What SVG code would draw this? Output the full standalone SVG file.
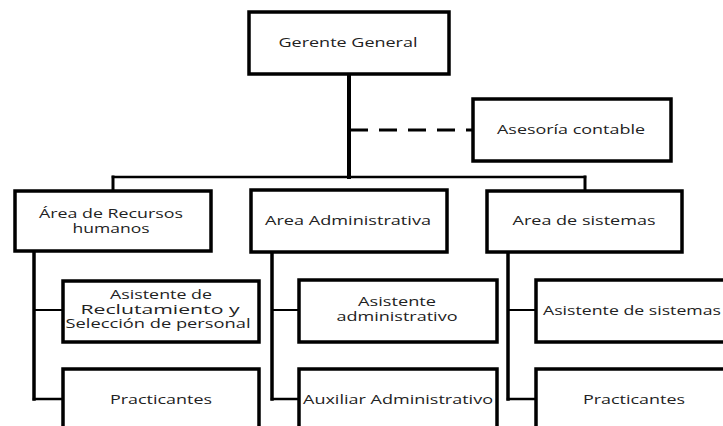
<svg xmlns="http://www.w3.org/2000/svg" width="723" height="426" viewBox="0 0 723 426">
<style>
.box{fill:#fff;stroke:#000;stroke-width:3.5}
.t{font-family:"Open Sans","DejaVu Sans",sans-serif;font-size:13px;fill:#222;text-anchor:middle}
.m{font-size:12px}
.ln{stroke:#000;fill:none;stroke-linecap:square}
</style>
<rect width="723" height="426" fill="#fff"/>
<g id="connectors">
<line class="ln" x1="349" y1="74" x2="349" y2="177" stroke-width="4"/>
<line x1="350" y1="130" x2="473" y2="130" stroke="#000" stroke-width="3" stroke-dasharray="18 11"/>
<line class="ln" x1="113" y1="177" x2="585" y2="177" stroke-width="2.5"/>
<line class="ln" x1="113" y1="177" x2="113" y2="191" stroke-width="3"/>
<line class="ln" x1="585" y1="177" x2="585" y2="191" stroke-width="3"/>
<line class="ln" x1="34" y1="251" x2="34" y2="399" stroke-width="3.5"/>
<line class="ln" x1="34" y1="310" x2="63" y2="310" stroke-width="2"/>
<line class="ln" x1="34" y1="399" x2="63" y2="399" stroke-width="2.5"/>
<line class="ln" x1="272" y1="252" x2="272" y2="399" stroke-width="3.5"/>
<line class="ln" x1="272" y1="310" x2="299" y2="310" stroke-width="2"/>
<line class="ln" x1="272" y1="399" x2="299" y2="399" stroke-width="2.5"/>
<line class="ln" x1="508" y1="252" x2="508" y2="399" stroke-width="3.5"/>
<line class="ln" x1="508" y1="310" x2="536" y2="310" stroke-width="2"/>
<line class="ln" x1="508" y1="399" x2="536" y2="399" stroke-width="2.5"/>
</g>
<g id="gerente"><rect class="box" x="249" y="12" width="200" height="62"/><text class="t" x="348" y="47" textLength="139" lengthAdjust="spacingAndGlyphs">Gerente General</text></g>
<g id="asesoria"><rect class="box" x="473" y="99" width="198" height="62"/><text class="t" x="571" y="134" textLength="148" lengthAdjust="spacingAndGlyphs">Asesoría contable</text></g>
<g id="rrhh"><rect class="box" x="15" y="191" width="196" height="60"/><text class="t m" x="111" y="218" textLength="144" lengthAdjust="spacingAndGlyphs">Área de Recursos</text><text class="t m" x="111" y="233" textLength="77" lengthAdjust="spacingAndGlyphs">humanos</text></g>
<g id="admin"><rect class="box" x="251" y="190" width="196" height="62"/><text class="t" x="348" y="225" textLength="166" lengthAdjust="spacingAndGlyphs">Area Administrativa</text></g>
<g id="sistemas"><rect class="box" x="487" y="191" width="195" height="61"/><text class="t" x="584" y="225" textLength="143" lengthAdjust="spacingAndGlyphs">Area de sistemas</text></g>
<g id="reclutamiento"><rect class="box" x="63" y="281" width="196" height="61"/><text class="t m" x="161" y="299" textLength="102" lengthAdjust="spacingAndGlyphs">Asistente de</text><text class="t m" x="160" y="313.5" textLength="159" lengthAdjust="spacingAndGlyphs">Reclutamiento y</text><text class="t m" x="158" y="328" textLength="185" lengthAdjust="spacingAndGlyphs">Selección de personal</text></g>
<g id="practicantes1"><rect class="box" x="63" y="369" width="196" height="80"/><text class="t" x="161" y="404" textLength="102" lengthAdjust="spacingAndGlyphs">Practicantes</text></g>
<g id="asist-admin"><rect class="box" x="299" y="280" width="198" height="62"/><text class="t m" x="397" y="306" textLength="78" lengthAdjust="spacingAndGlyphs">Asistente</text><text class="t m" x="397" y="321" textLength="121" lengthAdjust="spacingAndGlyphs">administrativo</text></g>
<g id="auxiliar"><rect class="box" x="299" y="369" width="198" height="80"/><text class="t" x="398" y="404" textLength="190" lengthAdjust="spacingAndGlyphs">Auxiliar Administrativo</text></g>
<g id="asist-sistemas"><rect class="box" x="536" y="280" width="196" height="62"/><text class="t" x="632" y="315" textLength="178" lengthAdjust="spacingAndGlyphs">Asistente de sistemas</text></g>
<g id="practicantes2"><rect class="box" x="536" y="369" width="196" height="80"/><text class="t" x="634" y="404" textLength="102" lengthAdjust="spacingAndGlyphs">Practicantes</text></g>
</svg>
